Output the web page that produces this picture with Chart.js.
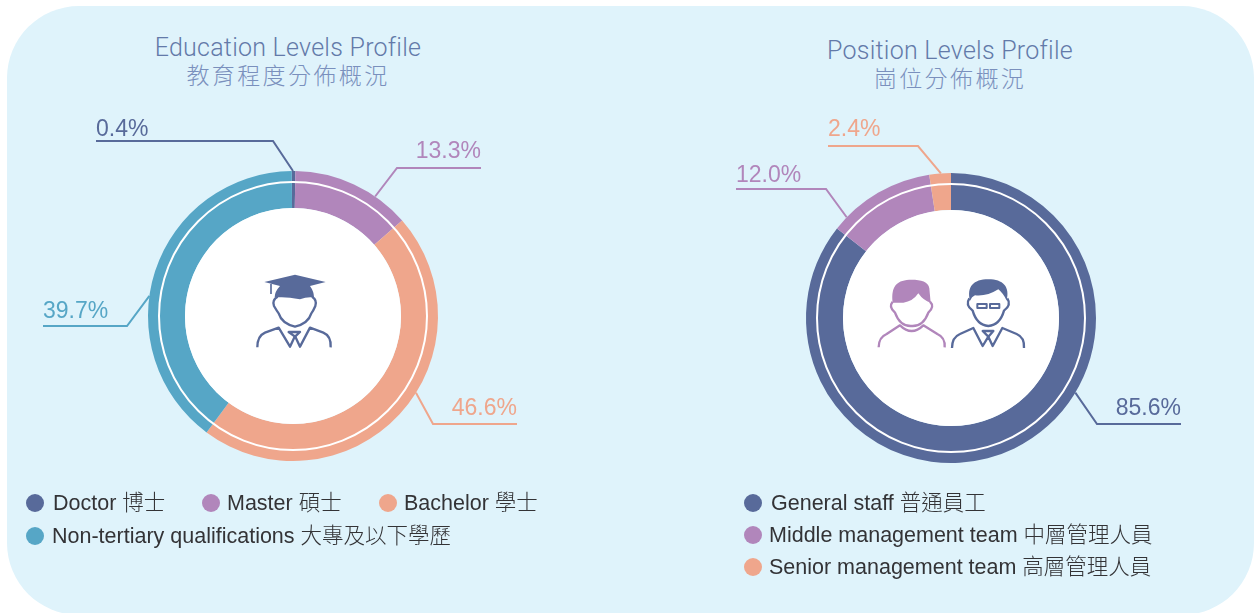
<!DOCTYPE html>
<html>
<head>
<meta charset="utf-8">
<title>Education and Position Levels Profile</title>
<script src="https://cdn.jsdelivr.net/npm/chart.js@4"></script>
<style>
  html, body { margin: 0; padding: 0; background: #fff; overflow: hidden; }
  body { width: 1255px; height: 613px; position: relative; font-family: "Liberation Sans", "Noto Sans CJK TC", sans-serif; }
  .panel { position: absolute; left: 7px; top: 6px; width: 1247px; height: 609px; background: #dff3fb; border-radius: 72px; }
  canvas { position: absolute; }
  #eduChart { left: 43px; top: 106px; }
  #posChart { left: 701px; top: 108px; }
  .title { position: absolute; width: 500px; text-align: center; color: #637aa9; font-family: Roboto, "Noto Sans CJK TC", sans-serif; font-weight: 300; font-size: 25px; line-height: 29px; letter-spacing: 0.25px; }
  .title span { display: block; color: #7a90bd; letter-spacing: 2.4px; font-size: 23px; }
  #eduTitle { left: 38px; top: 33px; }
  #posTitle { left: 700px; top: 36px; }
  .icon { position: absolute; }
  .legend-item { position: absolute; font-size: 21.5px; line-height: 24px; color: #333336; white-space: nowrap; font-weight: 300; }
  .dot { position: absolute; width: 18px; height: 18px; border-radius: 50%; }
</style>
</head>
<body>
<div class="panel"></div>
<canvas id="eduChart" width="500" height="420"></canvas>
<canvas id="posChart" width="500" height="420"></canvas>

<div class="title" id="eduTitle">Education Levels Profile<span>教育程度分佈概況</span></div>
<div class="title" id="posTitle">Position Levels Profile<span>崗位分佈概況</span></div>

<svg class="icon" style="left:130px;top:100px" width="330" height="280" viewBox="0 0 990 840" fill="none" stroke="#586a9a" stroke-width="7" stroke-linejoin="round" stroke-linecap="butt">
  <path d="M403 546 L495 524 L587 546 L540 558 Q552 575 552 592 L548 592 Q530 590 510 598 Q470 590 445 592 L434 592 Q434 575 450 558 Z" fill="#586a9a" stroke="none"/>
  <path d="M423 552 V582" stroke-width="5"/>
  <path d="M443 590 Q425 600 432 618 Q440 632 446 640 Q455 670 495 680 Q535 670 544 640 Q550 632 556 618 Q562 600 546 590"/>
  <path d="M382 742 Q382 708 405 698 L446 683 L480 740 L495 708 L510 740 L540 683 L580 698 Q604 708 602 742"/>
  <path d="M476 696 H510 L495 710 Z"/>
</svg>
<svg class="icon" style="left:790px;top:110px" width="320" height="270" viewBox="0 0 960 810" fill="none" stroke-width="7" stroke-linejoin="round" stroke-linecap="butt">
  <path d="M308 578 C304 540 312 515 350 510 C385 508 415 512 418 535 L422 578 Q400 572 385 550 Q368 575 340 578 Z" fill="#b186bb" stroke="none"/>
  <path d="M308 575 Q295 590 315 608 Q330 650 365 648 Q400 650 415 608 Q435 590 420 575" stroke="#b186bb"/>
  <path d="M266 712 Q266 682 290 672 L330 646 Q365 680 400 646 L442 672 Q466 682 464 712" stroke="#b186bb"/>
  <path d="M540 572 C530 530 550 508 595 508 C640 508 660 530 650 572 Q640 550 625 538 Q590 560 555 556 Q545 560 540 572 Z" fill="#586a9a" stroke="none"/>
  <path d="M538 565 Q525 585 548 602 Q560 645 595 648 Q630 645 642 602 Q665 585 652 565" stroke="#586a9a"/>
  <path d="M562 582 H590 V594 H562 Z M600 582 H628 V594 H600 Z" stroke="#586a9a" stroke-width="6"/>
  <path d="M486 714 Q486 682 510 672 L550 654 L578 708 L595 680 L608 708 L637 654 L680 672 Q704 682 702 714" stroke="#586a9a"/>
  <path d="M578 663 H610 L595 680 Z" stroke="#586a9a"/>
</svg>

<div id="legends"></div>

<script>
const eduLabels = ['Doctor 博士', 'Master 碩士', 'Bachelor 學士', 'Non-tertiary qualifications 大專及以下學歷'];
const eduValues = [0.4, 13.3, 46.6, 39.7];
const eduColors = ['#586a9a', '#b186bb', '#efa68c', '#56a6c6'];

const posLabels = ['General staff 普通員工', 'Middle management team 中層管理人員', 'Senior management team 高層管理人員'];
const posValues = [85.6, 12.0, 2.4];
const posColors = ['#586a9a', '#b186bb', '#efa68c'];

// leader lines: index of slice, angle on the ring (deg from top), elbow and end relative to centre
const eduLeaders = [
  { i: 0, angle: 0, elbow: [-20, -175], end: -197, side: 'left', gap: 5 },
  { i: 1, angle: 34.5, elbow: [104, -148], end: 188, side: 'right', gap: 10 },
  { i: 2, angle: 122, elbow: [140, 108], end: 224, side: 'right', gap: 9 },
  { i: 3, angle: 278, elbow: [-166, 10], end: -250, side: 'left', gap: 8 }
];
const posLeaders = [
  { i: 0, angle: 121, elbow: [146, 106], end: 230, side: 'right', gap: 9 },
  { i: 1, angle: 314, elbow: [-125, -129], end: -215, side: 'left', gap: 7 },
  { i: 2, angle: 356, elbow: [-33, -172], end: -123, side: 'left', gap: 10 }
];

// white ring, white centre, leader lines and percentage labels
const ringPlugin = {
  id: 'ring',
  afterDatasetsDraw(chart, args, opts) {
    const ctx = chart.ctx;
    const arc = chart.getDatasetMeta(0).data[0];
    const cx = arc.x, cy = arc.y, outer = arc.outerRadius;

    ctx.save();
    ctx.beginPath();
    ctx.arc(cx, cy, arc.innerRadius, 0, Math.PI * 2);
    ctx.fillStyle = '#fff';
    ctx.fill();

    ctx.beginPath();
    ctx.arc(cx, cy, 134, 0, Math.PI * 2);
    ctx.strokeStyle = '#fff';
    ctx.lineWidth = 2;
    ctx.stroke();

    opts.leaders.forEach(l => {
      const color = opts.colors[l.i];
      const rad = l.angle * Math.PI / 180;
      const ex = cx + l.elbow[0], ey = cy + l.elbow[1];
      ctx.beginPath();
      ctx.moveTo(cx + Math.sin(rad) * outer, cy - Math.cos(rad) * outer);
      ctx.lineTo(ex, ey);
      ctx.lineTo(cx + l.end, ey);
      ctx.strokeStyle = color;
      ctx.lineWidth = 2;
      ctx.stroke();

      ctx.fillStyle = color;
      ctx.font = '23px "Liberation Sans", sans-serif';
      ctx.textBaseline = 'alphabetic';
      ctx.textAlign = l.side;
      ctx.fillText(opts.values[l.i].toFixed(1) + '%', cx + l.end, ey - l.gap);
    });
    ctx.restore();
  }
};

function makeDonut(id, labels, values, colors, leaders, rotation) {
  return new Chart(document.getElementById(id), {
    type: 'doughnut',
    data: {
      labels: labels,
      datasets: [{ data: values, backgroundColor: colors, borderWidth: 0 }]
    },
    options: {
      responsive: false,
      animation: false,
      rotation: rotation,
      radius: 145,
      cutout: '74.5%',
      layout: { padding: 0 },
      plugins: {
        legend: { display: false },
        tooltip: { enabled: false },
        ring: { leaders: leaders, colors: colors, values: values }
      }
    },
    plugins: [ringPlugin]
  });
}

makeDonut('eduChart', eduLabels, eduValues, eduColors, eduLeaders, -0.5);
makeDonut('posChart', posLabels, posValues, posColors, posLeaders, 0);

// legends
const legends = document.getElementById('legends');
function addLegend(label, color, dotX, textX, y) {
  const dot = document.createElement('div');
  dot.className = 'dot';
  dot.style.cssText = `left:${dotX}px;top:${y - 9}px;background:${color}`;
  legends.appendChild(dot);
  const item = document.createElement('div');
  item.className = 'legend-item';
  item.style.cssText = `left:${textX}px;top:${y - 12}px`;
  item.textContent = label;
  legends.appendChild(item);
}
addLegend(eduLabels[0], eduColors[0], 26, 53, 503);
addLegend(eduLabels[1], eduColors[1], 202, 227, 503);
addLegend(eduLabels[2], eduColors[2], 379, 404, 503);
addLegend(eduLabels[3], eduColors[3], 26, 52, 536);
addLegend(posLabels[0], posColors[0], 744, 771, 503);
addLegend(posLabels[1], posColors[1], 744, 769, 535);
addLegend(posLabels[2], posColors[2], 744, 769, 567);
</script>
</body>
</html>
